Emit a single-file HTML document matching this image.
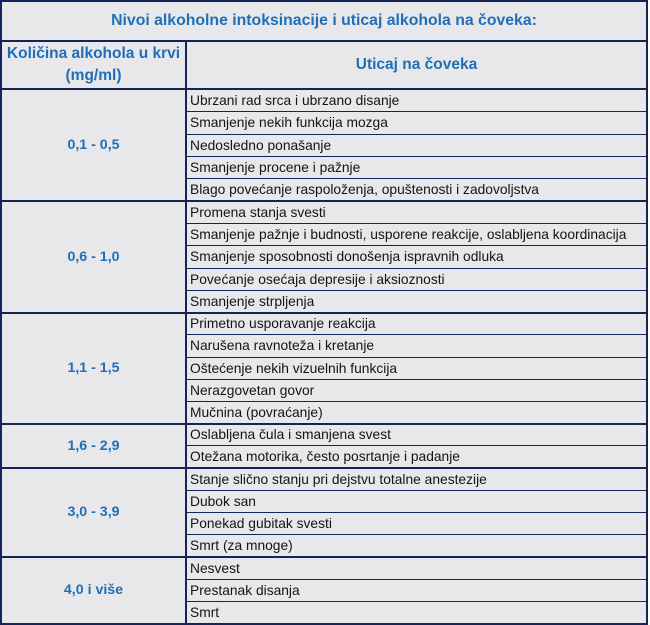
<!DOCTYPE html>
<html>
<head>
<meta charset="utf-8">
<style>
html,body{margin:0;padding:0;background:#ffffff;}
body{width:650px;height:625px;position:relative;overflow:hidden;font-family:"Liberation Sans",Arial,sans-serif;}
#t{position:absolute;left:0;top:0;width:648px;height:625px;background:#e8e7ea;}
.h{position:absolute;background:#142458;}
.c{position:absolute;white-space:nowrap;}
.r{position:absolute;left:190px;font-size:13.8px;color:#141414;white-space:nowrap;}
.b{color:#1f6fb8;font-weight:bold;text-align:center;}
</style>
</head>
<body>
<div id="t"></div>

<!-- title -->
<div class="c b" style="left:0;top:2px;width:648px;height:38px;line-height:38px;font-size:15.8px;">Nivoi alkoholne intoksinacije i uticaj alkohola na čoveka:</div>

<!-- header -->
<div class="c b" style="left:2px;top:43px;width:183px;line-height:22px;font-size:15.5px;">Količina alkohola u krvi<br>(mg/ml)</div>
<div class="c b" style="left:187px;top:42px;width:459px;height:46px;line-height:46px;font-size:15.5px;">Uticaj na čoveka</div>

<!-- left column values -->
<div class="c b" style="left:2px;top:90px;width:183px;height:110px;line-height:110px;font-size:14.2px;">0,1 - 0,5</div>
<div class="c b" style="left:2px;top:202px;width:183px;height:110px;line-height:110px;font-size:14.2px;">0,6 - 1,0</div>
<div class="c b" style="left:2px;top:314px;width:183px;height:109px;line-height:109px;font-size:14.2px;">1,1 - 1,5</div>
<div class="c b" style="left:2px;top:425px;width:183px;height:42px;line-height:42px;font-size:14.2px;">1,6 - 2,9</div>
<div class="c b" style="left:2px;top:469px;width:183px;height:87px;line-height:87px;font-size:14.2px;">3,0 - 3,9</div>
<div class="c b" style="left:2px;top:558px;width:183px;height:65px;line-height:65px;font-size:14.2px;">4,0 i više</div>

<!-- right column rows -->
<div class="r" style="top:90px;line-height:21px;">Ubrzani rad srca i ubrzano disanje</div>
<div class="r" style="top:112px;line-height:22px;">Smanjenje nekih funkcija mozga</div>
<div class="r" style="top:135px;line-height:21px;">Nedosledno ponašanje</div>
<div class="r" style="top:157px;line-height:21px;">Smanjenje procene i pažnje</div>
<div class="r" style="top:179px;line-height:21px;">Blago povećanje raspoloženja, opuštenosti i zadovoljstva</div>
<div class="r" style="top:202px;line-height:21px;">Promena stanja svesti</div>
<div class="r" style="top:224px;line-height:21px;">Smanjenje pažnje i budnosti, usporene reakcije, oslabljena koordinacija</div>
<div class="r" style="top:246px;line-height:22px;">Smanjenje sposobnosti donošenja ispravnih odluka</div>
<div class="r" style="top:269px;line-height:21px;">Povećanje osećaja depresije i aksioznosti</div>
<div class="r" style="top:291px;line-height:21px;">Smanjenje strpljenja</div>
<div class="r" style="top:314px;line-height:20px;">Primetno usporavanje reakcija</div>
<div class="r" style="top:335px;line-height:22px;">Narušena ravnoteža i kretanje</div>
<div class="r" style="top:358px;line-height:21px;">Oštećenje nekih vizuelnih funkcija</div>
<div class="r" style="top:380px;line-height:21px;">Nerazgovetan govor</div>
<div class="r" style="top:402px;line-height:21px;">Mučnina (povraćanje)</div>
<div class="r" style="top:425px;line-height:20px;">Oslabljena čula i smanjena svest</div>
<div class="r" style="top:446px;line-height:21px;">Otežana motorika, često posrtanje i padanje</div>
<div class="r" style="top:469px;line-height:21px;">Stanje slično stanju pri dejstvu totalne anestezije</div>
<div class="r" style="top:491px;line-height:21px;">Dubok san</div>
<div class="r" style="top:513px;line-height:21px;">Ponekad gubitak svesti</div>
<div class="r" style="top:535px;line-height:21px;">Smrt (za mnoge)</div>
<div class="r" style="top:558px;line-height:21px;">Nesvest</div>
<div class="r" style="top:580px;line-height:21px;">Prestanak disanja</div>
<div class="r" style="top:602px;line-height:21px;">Smrt</div>

<!-- outer borders -->
<div class="h" style="left:0;top:0;width:648px;height:2px;"></div>
<div class="h" style="left:0;top:623px;width:648px;height:2px;"></div>
<div class="h" style="left:0;top:0;width:2px;height:625px;"></div>
<div class="h" style="left:646px;top:0;width:2px;height:625px;"></div>

<!-- major horizontal -->
<div class="h" style="left:0;top:40px;width:648px;height:2px;"></div>
<div class="h" style="left:0;top:88px;width:648px;height:2px;"></div>
<div class="h" style="left:0;top:200px;width:648px;height:2px;"></div>
<div class="h" style="left:0;top:312px;width:648px;height:2px;"></div>
<div class="h" style="left:0;top:423px;width:648px;height:2px;"></div>
<div class="h" style="left:0;top:467px;width:648px;height:2px;"></div>
<div class="h" style="left:0;top:556px;width:648px;height:2px;"></div>

<!-- vertical divider -->
<div class="h" style="left:185px;top:40px;width:2px;height:585px;"></div>

<!-- inner row lines (right column) -->
<div class="h" style="left:187px;top:111px;width:460px;height:1px;"></div>
<div class="h" style="left:187px;top:134px;width:460px;height:1px;"></div>
<div class="h" style="left:187px;top:156px;width:460px;height:1px;"></div>
<div class="h" style="left:187px;top:178px;width:460px;height:1px;"></div>
<div class="h" style="left:187px;top:223px;width:460px;height:1px;"></div>
<div class="h" style="left:187px;top:245px;width:460px;height:1px;"></div>
<div class="h" style="left:187px;top:268px;width:460px;height:1px;"></div>
<div class="h" style="left:187px;top:290px;width:460px;height:1px;"></div>
<div class="h" style="left:187px;top:334px;width:460px;height:1px;"></div>
<div class="h" style="left:187px;top:357px;width:460px;height:1px;"></div>
<div class="h" style="left:187px;top:379px;width:460px;height:1px;"></div>
<div class="h" style="left:187px;top:401px;width:460px;height:1px;"></div>
<div class="h" style="left:187px;top:445px;width:460px;height:1px;"></div>
<div class="h" style="left:187px;top:490px;width:460px;height:1px;"></div>
<div class="h" style="left:187px;top:512px;width:460px;height:1px;"></div>
<div class="h" style="left:187px;top:534px;width:460px;height:1px;"></div>
<div class="h" style="left:187px;top:579px;width:460px;height:1px;"></div>
<div class="h" style="left:187px;top:601px;width:460px;height:1px;"></div>
</body>
</html>
